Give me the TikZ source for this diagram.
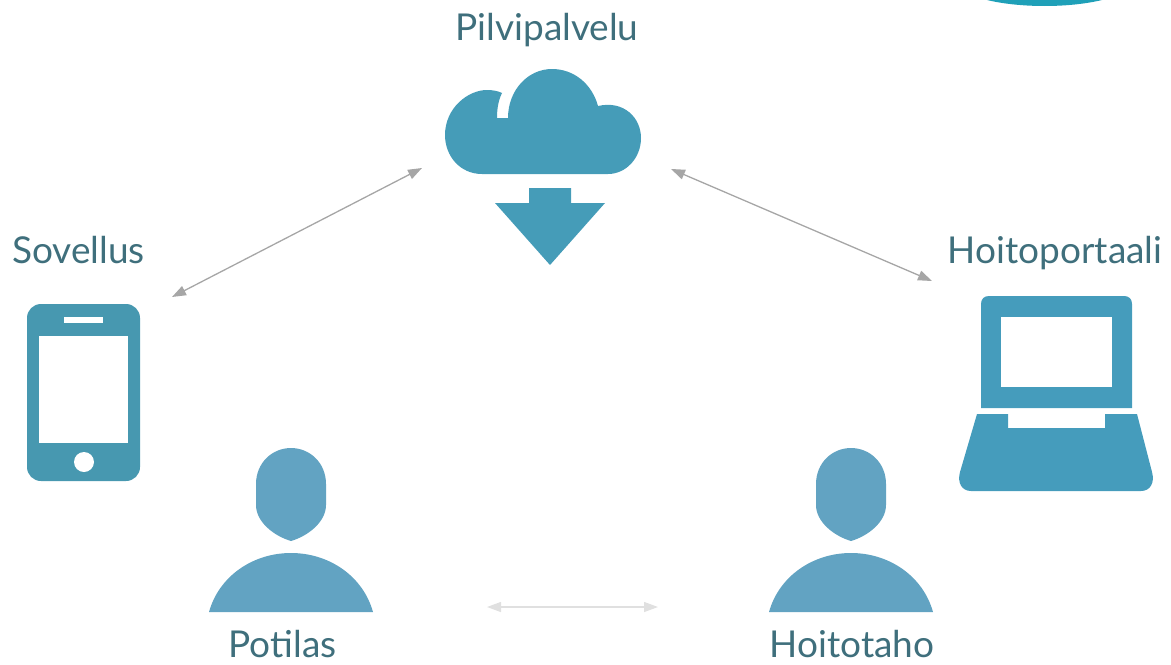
\documentclass[tikz,border=0pt]{standalone}
\usepackage{fontspec}
\setmainfont{Lato}
\usetikzlibrary{arrows.meta}
\definecolor{labeltext}{HTML}{3F6F7C}
\definecolor{cloudblue}{HTML}{459CB8}
\definecolor{phoneblue}{HTML}{4798B0}
\definecolor{laptopblue}{HTML}{459CBC}
\definecolor{personblue}{HTML}{62A3C2}
\definecolor{cornerteal}{HTML}{1FA0B8}
\tikzset{
  iconlabel/.style={anchor=base, text=labeltext, font=\fontsize{18.5}{22}\selectfont, inner sep=0pt},
  link/.style={{Triangle[length=7pt,width=5pt]}-{Triangle[length=7pt,width=5pt]}, line width=.65pt, draw=#1},
  person/.pic={
    \fill[personblue] (-35,57) -- (-35,36) .. controls (-35,15) and (-19,0) .. (0,0)
      .. controls (19,0) and (35,15) .. (35,36) -- (35,57)
      .. controls (35,74) and (17,88) .. (0,93) .. controls (-17,88) and (-35,74) .. (-35,57) -- cycle;
    \fill[personblue] (-82,164) .. controls (-72,128) and (-38,105) .. (0,105)
      .. controls (38,105) and (72,128) .. (82,164) -- cycle;
  }
}
\begin{document}
\begin{tikzpicture}[x=.5pt,y=-.5pt]
\useasboundingbox (0,0) rectangle (1171,664);
% corner
\fill[cornerteal] (987,0) .. controls (1020,8) and (1069,8) .. (1102,0) -- cycle;
% cloud
\fill[cloudblue] (482,174) .. controls (460,174) and (445,156) .. (445,135)
  .. controls (445,108) and (468,90) .. (487,90) .. controls (493,90) and (498,91) .. (502,93)
  .. controls (498,101) and (497,110) .. (497,118) -- (508,118)
  .. controls (508,90) and (528,69) .. (552,69) .. controls (574,69) and (592,84) .. (598,106)
  .. controls (624,100) and (641,118) .. (641,138) .. controls (641,158) and (626,174) .. (608,174) -- cycle;
\fill[cloudblue] (529,188) -- (571,188) -- (571,203) -- (605,203) -- (550,265) -- (495,203) -- (529,203) -- cycle;
% phone
\fill[phoneblue, rounded corners=7pt] (27,304) rectangle (140,481);
\fill[white] (39,336) rectangle (128,443);
\fill[white] (64,317) rectangle (103,323);
\fill[white] (84,462) circle (10);
% laptop
\fill[laptopblue] (981,408) -- (981,304) .. controls (981,299) and (984,296) .. (989,296) -- (1124,296)
  .. controls (1129,296) and (1132,299) .. (1132,304) -- (1132,408) -- cycle;
\fill[white] (1001,317) rectangle (1112,387);
\fill[laptopblue] (977,414) -- (1008,414) -- (1008,428) -- (1105,428) -- (1105,414) -- (1137,414)
  -- (1152,472) .. controls (1155,483) and (1150,491) .. (1141,491) -- (971,491)
  .. controls (962,491) and (957,483) .. (960,472) -- cycle;
% people
\pic at (291,448) {person};
\pic at (851,448) {person};
% labels
\node[iconlabel] (pilvi) at (547,40) {Pilvipalvelu};
\node[iconlabel] (sovellus) at (78.5,263) {Sovellus};
\node[iconlabel] (portaali) at (1055,263) {Hoitoportaali};
\node[iconlabel] (potilas) at (282.5,657) {Potilas};
\node[iconlabel] (hoitotaho) at (852,657) {Hoitotaho};
% link ends
\coordinate (cloudleft) at (422,168);
\coordinate (cloudright) at (671,169);
\coordinate (phoneend) at (172,297);
\coordinate (laptopend) at (932,281);
\coordinate (patientend) at (487,607);
\coordinate (carerend) at (658,607);
\draw[link=black!35] (phoneend) -- (cloudleft);
\draw[link=black!35] (cloudright) -- (laptopend);
\draw[link=black!12] (patientend) -- (carerend);
\end{tikzpicture}
\end{document}
